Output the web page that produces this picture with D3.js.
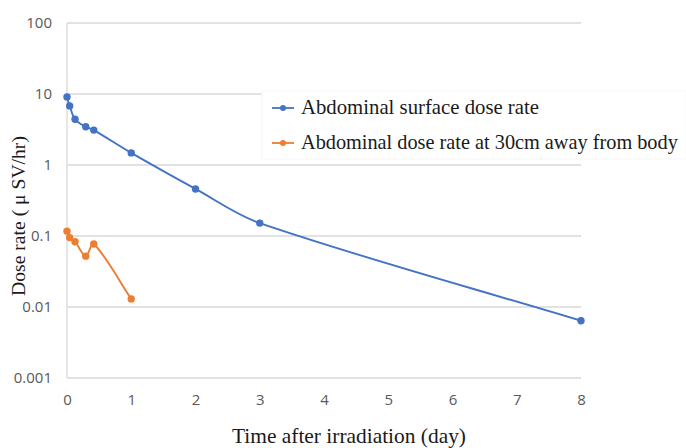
<!DOCTYPE html>
<html>
<head>
<meta charset="utf-8">
<script src="https://cdn.jsdelivr.net/npm/d3@7"></script>
<style>
  html, body { margin: 0; padding: 0; background: #fff; }
  svg { display: block; }
</style>
</head>
<body>
<svg id="chart" width="686" height="448"></svg>
<script>
// Time after irradiation, in days (1h, 3h, 7h, 10h ... 8 days)
const surfaceDays = [0, 1/24, 3/24, 7/24, 10/24, 1, 2, 3, 8];
const surfaceRate = [9.1, 6.8, 4.4, 3.45, 3.1, 1.48, 0.46, 0.152, 0.0064];

const awayDays = [0, 1/24, 3/24, 7/24, 10/24, 1];
const awayRate = [0.117, 0.095, 0.083, 0.052, 0.077, 0.013];

const seriesNames = ["Abdominal surface dose rate", "Abdominal dose rate at 30cm away from body"];
const seriesColors = ["#4472C4", "#ED7D31"];

const xTicks = [0, 1, 2, 3, 4, 5, 6, 7, 8];
const yTicks = [0.001, 0.01, 0.1, 1, 10, 100];
const yTickLabels = ["0.001", "0.01", "0.1", "1", "10", "100"];

const xTitle = "Time after irradiation (day)";
const yTitle = "Dose rate ( \u03BC SV/hr)";

const svg = d3.select("#chart");
const m = { left: 67, right: 105, top: 23, bottom: 70 };
const W = 686, H = 448;

const x = d3.scaleLinear().domain([0, 8]).range([m.left, W - m.right]);
const y = d3.scaleLog().domain([0.001, 100]).range([H - m.bottom, m.top]);

const gridColor = "#d9d9d9";
const tickFont = "'Open Sans', 'Noto Sans', sans-serif";
const serifFont = "'Liberation Serif', 'DejaVu Serif', serif";

// Smoothed line: cubic Bézier segments whose control arms are scaled by
// the relative length of neighbouring segments, so long segments stay
// close to straight and short ones don't overshoot.
function curveSmoothWeighted(context) {
  let pts = [];
  return {
    areaStart() {}, areaEnd() {},
    lineStart() { pts = []; },
    point(px, py) { pts.push([+px, +py]); },
    lineEnd() {
      const n = pts.length;
      if (!n) return;
      context.moveTo(pts[0][0], pts[0][1]);
      if (n === 1) return;
      const len = (a, b) => Math.hypot(b[0] - a[0], b[1] - a[1]);
      const L = [];
      for (let i = 0; i < n - 1; i++) L.push(len(pts[i], pts[i + 1]));
      // tangent vector and arm scale for each point
      const T = pts.map((p, i) => {
        const a = pts[Math.max(0, i - 1)], b = pts[Math.min(n - 1, i + 1)];
        return [b[0] - a[0], b[1] - a[1]];
      });
      for (let i = 0; i < n - 1; i++) {
        const p0 = pts[i], p1 = pts[i + 1];
        let k0, k1;
        if (i === 0) k0 = 1 / 3;
        else k0 = (1 / 3) * L[i] / (L[i - 1] + L[i]);
        if (i + 1 === n - 1) k1 = 1 / 3;
        else k1 = (1 / 3) * L[i] / (L[i] + L[i + 1]);
        const c1 = [p0[0] + T[i][0] * k0, p0[1] + T[i][1] * k0];
        const c2 = [p1[0] - T[i + 1][0] * k1, p1[1] - T[i + 1][1] * k1];
        context.bezierCurveTo(c1[0], c1[1], c2[0], c2[1], p1[0], p1[1]);
      }
    }
  };
}

// horizontal gridlines at each decade
svg.append("g")
  .selectAll("line")
  .data(yTicks)
  .join("line")
  .attr("x1", x(0)).attr("x2", x(8))
  .attr("y1", d => y(d)).attr("y2", d => y(d))
  .attr("stroke", gridColor).attr("stroke-width", 1.3);

// left axis line
svg.append("line")
  .attr("x1", x(0)).attr("x2", x(0))
  .attr("y1", y(100)).attr("y2", y(0.001))
  .attr("stroke", gridColor).attr("stroke-width", 1.3);

// y axis labels
const yAxis = d3.axisLeft(y).tickValues(yTicks)
  .tickFormat((d, i) => yTickLabels[i]).tickSize(0).tickPadding(15);
const gy = svg.append("g").attr("transform", `translate(${x(0)},0)`).call(yAxis);
gy.select(".domain").remove();
gy.selectAll("text").attr("fill", "#595959").attr("font-size", 15).attr("font-family", tickFont);

// x axis labels
const xAxis = d3.axisBottom(x).tickValues(xTicks).tickFormat(d3.format("d")).tickSize(0).tickPadding(16);
const gx = svg.append("g").attr("transform", `translate(0,${y(0.001)})`).call(xAxis);
gx.select(".domain").remove();
gx.selectAll("text").attr("fill", "#595959").attr("font-size", 15).attr("font-family", tickFont);

// series lines and markers
const series = [
  { xs: surfaceDays, ys: surfaceRate },
  { xs: awayDays, ys: awayRate }
];
const line = d3.line()
  .x(d => x(d[0])).y(d => y(d[1]))
  .curve(curveSmoothWeighted);

series.forEach((s, i) => {
  const pts = s.xs.map((d, j) => [d, s.ys[j]]);
  svg.append("path")
    .datum(pts)
    .attr("d", line)
    .attr("fill", "none")
    .attr("stroke", seriesColors[i])
    .attr("stroke-width", 1.9);
  svg.append("g")
    .selectAll("circle")
    .data(pts)
    .join("circle")
    .attr("cx", d => x(d[0])).attr("cy", d => y(d[1]))
    .attr("r", 3.7)
    .attr("fill", seriesColors[i]);
});

// fit a text element to a target width by adjusting its font size
function fitWidth(sel, target) {
  const node = sel.node();
  const fs = parseFloat(sel.attr("font-size"));
  const w = node.getComputedTextLength();
  sel.attr("font-size", (fs * target / w).toFixed(2));
}

// legend
const legend = svg.append("g");
legend.append("rect")
  .attr("x", 262).attr("y", 91).attr("width", 424).attr("height", 68)
  .attr("fill", "#fff").attr("stroke", "#f7f7f7");
const legendRows = [108, 143];
seriesNames.forEach((name, i) => {
  const ly = legendRows[i];
  legend.append("line")
    .attr("x1", 272).attr("x2", 294).attr("y1", ly).attr("y2", ly)
    .attr("stroke", seriesColors[i]).attr("stroke-width", 1.8);
  legend.append("circle")
    .attr("cx", 283).attr("cy", ly).attr("r", 3)
    .attr("fill", seriesColors[i]);
  const t = legend.append("text")
    .attr("x", 301).attr("y", ly + 6)
    .attr("font-family", serifFont).attr("font-size", 19)
    .attr("fill", "#1a1a1a")
    .text(name);
  fitWidth(t, i === 0 ? 238 : 377);
});

// axis titles
const xt = svg.append("text")
  .attr("x", 349).attr("y", 443)
  .attr("text-anchor", "middle")
  .attr("font-family", serifFont).attr("font-size", 19)
  .attr("fill", "#1a1a1a")
  .text(xTitle);
fitWidth(xt, 234);

const yt = svg.append("text")
  .attr("transform", "translate(25,216) rotate(-90)")
  .attr("text-anchor", "middle")
  .attr("font-family", serifFont).attr("font-size", 15)
  .attr("fill", "#1a1a1a")
  .text(yTitle);
fitWidth(yt, 160);
</script>
</body>
</html>
